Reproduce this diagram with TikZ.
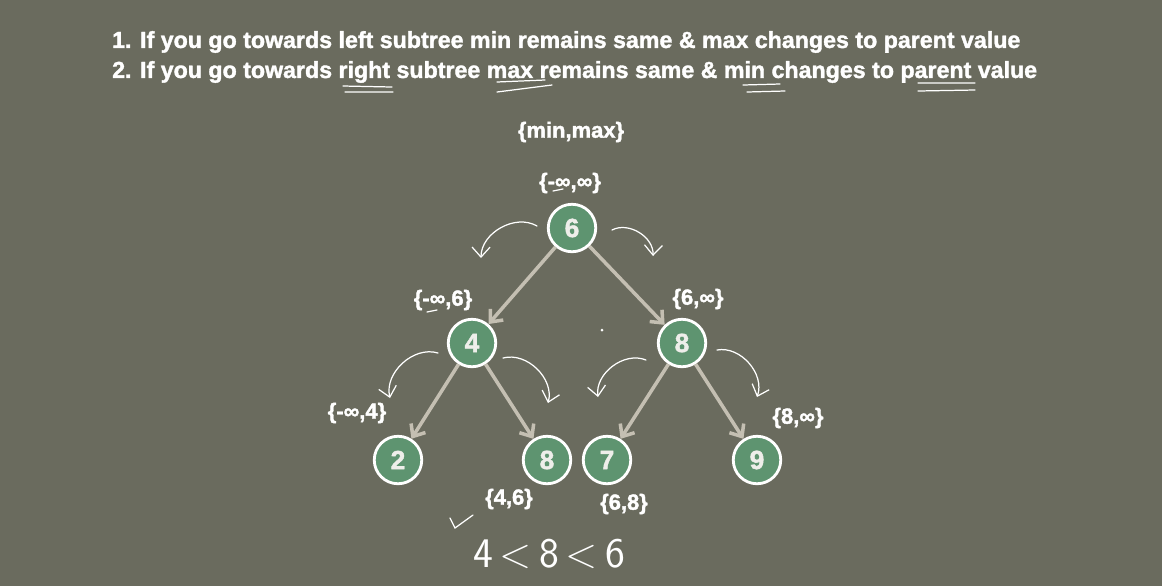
\documentclass[tikz,border=0pt]{standalone}
\usepackage{fontspec}
\setmainfont{Liberation Sans}[BoldFeatures={FakeBold=1.6}]
\usetikzlibrary{arrows.meta}

\definecolor{board}{HTML}{6A6B5E}
\definecolor{leaf}{HTML}{5E9470}
\definecolor{branch}{HTML}{C4BFB2}
\definecolor{digit}{HTML}{EEEEEA}

\begin{document}
\begin{tikzpicture}[
  x=0.02cm, y=0.02cm,
  tnode/.style={circle, draw=white, line width=1.6pt, fill=leaf, minimum size=0.95cm,
                inner sep=0pt, text=digit, font=\bfseries\fontsize{15}{15}\selectfont},
  rng/.style={text=white, font=\bfseries\fontsize{12.5}{13}\selectfont},
  rule/.style={anchor=west, text=white, font=\bfseries\fontsize{13.2}{14}\selectfont},
  edge/.style={draw=branch, line width=2pt, -{Straight Barb[length=2mm,width=3.4mm]}},
  hand/.style={draw=white, line width=0.7pt, line cap=round},
  curl/.style={hand, -{Straight Barb[length=2mm,width=3.6mm]}}]
\fill[board] (0,0) rectangle (1162,-586);
\useasboundingbox (0,0) rectangle (1162,-586);

% rules
\node[rule] (rule1) at (106,-42) {1. If you go towards left subtree min remains same \& max changes to parent value};
\node[rule] (rule2) at (106,-72) {2. If you go towards right subtree max remains same \& min changes to parent value};
\draw[hand] (343,-86) -- (392,-87) (345,-92) -- (393,-92);
\draw[hand] (497,-82) -- (545,-80) (497,-92) -- (552,-85);
\draw[hand] (743,-85) -- (780,-84) (747,-92) -- (785,-91);
\draw[hand] (918,-83) -- (975,-83) (918,-91) -- (975,-90);

% tree
\node[tnode] (n6) at (572,-228) {6};
\node[tnode] (n4) at (472,-343) {4};
\node[tnode] (n8) at (682,-343) {8};
\node[tnode] (n2) at (398,-460) {2};
\node[tnode] (n8l) at (547,-460) {8};
\node[tnode] (n7) at (607,-460) {7};
\node[tnode] (n9) at (757,-460) {9};
\foreach \a/\b in {n6/n4,n6/n8,n4/n2,n4/n8l,n8/n7,n8/n9}
  \draw[edge] (\a) -- (\b);

% ranges
\node[rng] (head) at (571,-132) {\{min,max\}};
\node[rng] (r6) at (570,-183) {\{-∞,∞\}};
\node[rng] (r4) at (443,-300) {\{-∞,6\}};
\node[rng] (r8) at (698,-299) {\{6,∞\}};
\node[rng] (r2) at (357,-413) {\{-∞,4\}};
\node[rng] (r9) at (798,-418) {\{8,∞\}};
\node[rng] (r8l) at (509,-499) {\{4,6\}};
\node[rng] (r7) at (624,-504) {\{6,8\}};
\draw[hand] (553,-191) -- (563,-189);
\draw[hand] (427,-312) -- (437,-310);

% hand-drawn turns
\coordinate (a1) at (537,-226); \coordinate (b1) at (481,-258);
\coordinate (a2) at (612,-230); \coordinate (b2) at (653,-256);
\coordinate (a3) at (438,-353); \coordinate (b3) at (390,-398);
\coordinate (a4) at (503,-358); \coordinate (b4) at (548,-403);
\coordinate (a5) at (646,-360); \coordinate (b5) at (598,-397);
\coordinate (a6) at (717,-350); \coordinate (b6) at (757,-397);
\foreach \s/\e in {a1/b1,a3/b3,a5/b5}
  \draw[curl] (\s) to[bend right=60] (\e);
\foreach \s/\e in {a2/b2,a4/b4,a6/b6}
  \draw[curl] (\s) to[bend left=60] (\e);
\fill[white] (602,-330) circle (1.5);

% check
\draw[hand] (450,-518) -- (455,-528) -- (473,-515);
\node[text=white, font=\sffamily\fontsize{24}{24}\selectfont] (ineq) at (549,-554) {4\,<\,8\,<\,6};
\end{tikzpicture}
\end{document}
